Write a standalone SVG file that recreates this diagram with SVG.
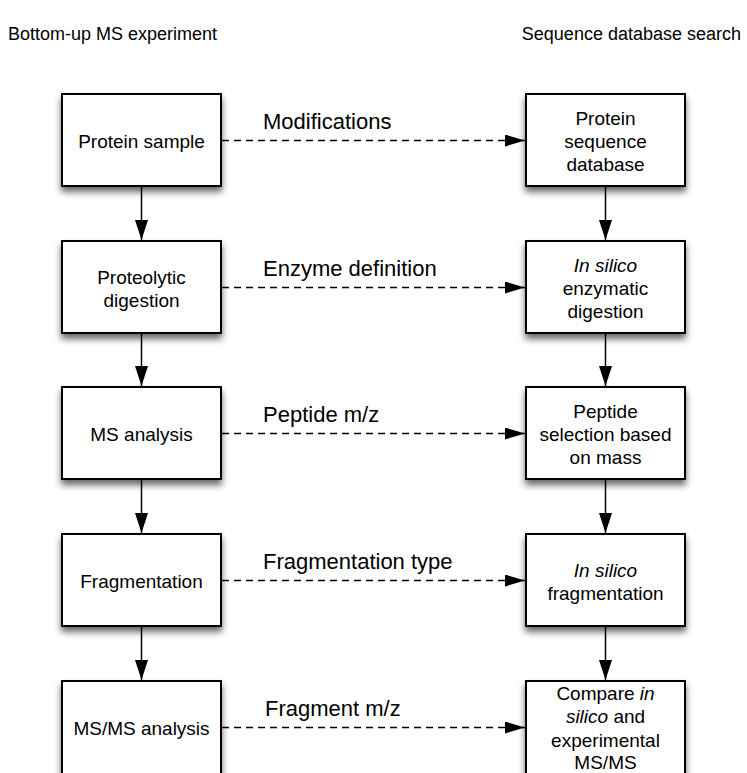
<svg xmlns="http://www.w3.org/2000/svg" width="747" height="773" viewBox="0 0 747 773">
<style>
.box{fill:#fff;stroke:#000;stroke-width:2}
.t{font-family:"Liberation Sans",Arial,sans-serif;font-size:19px;fill:#000;text-anchor:middle}
.h{font-family:"Liberation Sans",Arial,sans-serif;font-size:18px;fill:#000}
.lbl{font-family:"Liberation Sans",Arial,sans-serif;font-size:22px;fill:#000}
.solid{stroke:#000;stroke-width:1.5;fill:none}
.dash{stroke:#000;stroke-width:1.5;fill:none;stroke-dasharray:7 5}
</style>
<defs>
<filter id="sh" x="-20%" y="-20%" width="150%" height="150%">
<feDropShadow dx="0" dy="5" stdDeviation="3.5" flood-color="#000" flood-opacity="0.6"/>
</filter>
<marker id="ah" markerWidth="20" markerHeight="13" refX="20" refY="6.5" orient="auto" markerUnits="userSpaceOnUse">
<path d="M0,0 L20,6.5 L0,13 Z" fill="#000"/>
</marker>
<marker id="ad" markerWidth="20" markerHeight="12" refX="20" refY="6" orient="auto" markerUnits="userSpaceOnUse">
<path d="M0,0 L20,6 L0,12 Z" fill="#000"/>
</marker>
</defs>
<rect width="747" height="773" fill="#fff"/>
<text class="h" x="8" y="40">Bottom-up MS experiment</text>
<text class="h" x="741" y="40" text-anchor="end">Sequence database search</text>

<g id="connectors">
<line class="solid" x1="141.5" y1="187" x2="141.5" y2="240" marker-end="url(#ah)"/>
<line class="solid" x1="141.5" y1="334" x2="141.5" y2="386" marker-end="url(#ah)"/>
<line class="solid" x1="141.5" y1="480" x2="141.5" y2="533" marker-end="url(#ah)"/>
<line class="solid" x1="141.5" y1="627" x2="141.5" y2="680" marker-end="url(#ah)"/>
<line class="solid" x1="605.5" y1="187" x2="605.5" y2="240" marker-end="url(#ah)"/>
<line class="solid" x1="605.5" y1="334" x2="605.5" y2="386" marker-end="url(#ah)"/>
<line class="solid" x1="605.5" y1="480" x2="605.5" y2="533" marker-end="url(#ah)"/>
<line class="solid" x1="605.5" y1="627" x2="605.5" y2="680" marker-end="url(#ah)"/>
<line class="dash" x1="222" y1="140.5" x2="525" y2="140.5" marker-end="url(#ad)"/>
<line class="dash" x1="222" y1="287.5" x2="525" y2="287.5" marker-end="url(#ad)"/>
<line class="dash" x1="222" y1="433.5" x2="525" y2="433.5" marker-end="url(#ad)"/>
<line class="dash" x1="222" y1="580.5" x2="525" y2="580.5" marker-end="url(#ad)"/>
<line class="dash" x1="222" y1="727.5" x2="525" y2="727.5" marker-end="url(#ad)"/>
<text class="lbl" x="263" y="129">Modifications</text>
<text class="lbl" x="263" y="276">Enzyme definition</text>
<text class="lbl" x="263" y="422">Peptide m/z</text>
<text class="lbl" x="263" y="569">Fragmentation type</text>
<text class="lbl" x="265" y="716">Fragment m/z</text>
</g>

<g id="n1"><rect class="box" filter="url(#sh)" x="62" y="94" width="159" height="92"/><text class="t" x="141.5" y="148">Protein sample</text></g>
<g id="n2"><rect class="box" filter="url(#sh)" x="62" y="241" width="159" height="92"/><text class="t" x="141.5" y="283.5">Proteolytic</text><text class="t" x="141.5" y="306.5">digestion</text></g>
<g id="n3"><rect class="box" filter="url(#sh)" x="62" y="387" width="159" height="92"/><text class="t" x="141.5" y="441">MS analysis</text></g>
<g id="n4"><rect class="box" filter="url(#sh)" x="62" y="534" width="159" height="92"/><text class="t" x="141.5" y="588">Fragmentation</text></g>
<g id="n5"><rect class="box" filter="url(#sh)" x="62" y="681" width="159" height="100"/><text class="t" x="141.5" y="735">MS/MS analysis</text></g>

<g id="r1"><rect class="box" filter="url(#sh)" x="526" y="94" width="159" height="92"/><text class="t" x="605.5" y="125">Protein</text><text class="t" x="605.5" y="148">sequence</text><text class="t" x="605.5" y="171">database</text></g>
<g id="r2"><rect class="box" filter="url(#sh)" x="526" y="241" width="159" height="92"/><text class="t" x="605.5" y="272"><tspan font-style="italic">In silico</tspan></text><text class="t" x="605.5" y="295">enzymatic</text><text class="t" x="605.5" y="318">digestion</text></g>
<g id="r3"><rect class="box" filter="url(#sh)" x="526" y="387" width="159" height="92"/><text class="t" x="605.5" y="418">Peptide</text><text class="t" x="605.5" y="441">selection based</text><text class="t" x="605.5" y="463.5">on mass</text></g>
<g id="r4"><rect class="box" filter="url(#sh)" x="526" y="534" width="159" height="92"/><text class="t" x="605.5" y="576.5"><tspan font-style="italic">In silico</tspan></text><text class="t" x="605.5" y="599.5">fragmentation</text></g>
<g id="r5"><rect class="box" filter="url(#sh)" x="526" y="681" width="159" height="100"/><text class="t" x="605.5" y="700">Compare <tspan font-style="italic">in</tspan></text><text class="t" x="605.5" y="723"><tspan font-style="italic">silico</tspan> and</text><text class="t" x="605.5" y="746.5">experimental</text><text class="t" x="605.5" y="768.5">MS/MS</text></g>
</svg>
